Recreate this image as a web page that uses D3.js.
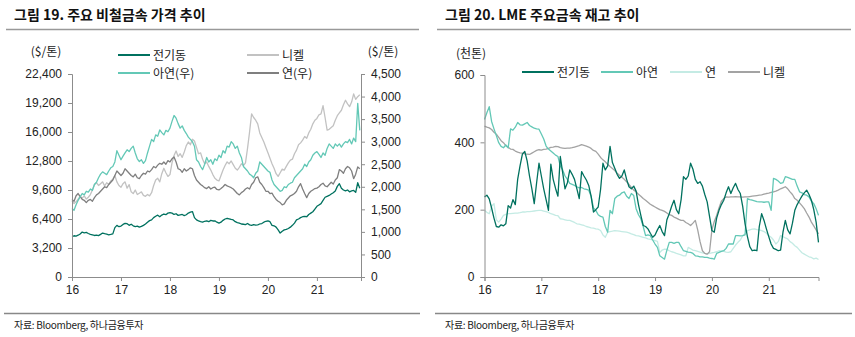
<!DOCTYPE html>
<html>
<head>
<meta charset="utf-8">
<script src="https://cdn.jsdelivr.net/npm/d3@7"></script>
<style>
  body { margin: 0; background: #fff; }
  svg { display: block; font-family: "Noto Sans CJK KR", "Noto Sans", sans-serif; }
  .tick text { fill: #222; font-size: 12px; }
  .domain, .tick line { stroke: #8c8c8c; }
</style>
</head>
<body>
<div id="chart"></div>
<script>
// half-monthly observations, Jan 2016 onward (index i -> 16 + i/24)
var years = ['16', '17', '18', '19', '20', '21']

// 가격: 전기동, 니켈 on the left axis ($/t), 아연, 연 on the right axis
var copperPx = [
  4470, 4550, 4520, 4610, 4750, 4960, 4880, 4920, 4800, 4710, 4650, 4580,
  4620, 4560, 4700, 4850, 4780, 4720, 4650, 4700, 4760, 5450, 5700, 5550,
  5620, 5800, 5920, 5880, 5700, 5820, 5650, 5560, 5620, 5500, 5580, 5700,
  5850, 6050, 6220, 6300, 6550, 6700, 6820, 6650, 6830, 6950, 6880, 7050,
  7100, 7050, 6900, 6980, 6800, 6850, 6900, 6780, 6870, 7050, 7150, 7220,
  6550, 6300, 6200, 6120, 6050, 6150, 6200, 6100, 6250, 6180, 6200, 6050,
  5950, 6050, 6250, 6400, 6480, 6420, 6350, 6300, 6100, 6000, 5950, 5850,
  5820, 5780, 5900, 5750, 5700, 5780, 5720, 5760, 5850, 5900, 6050, 6150,
  6200, 6100, 5700, 5650, 5500, 5200, 4850, 5050, 5200, 5250, 5350, 5500,
  5700, 5950, 6300, 6400, 6550, 6650, 6700, 6650, 6900, 7050, 7200, 7500,
  7800, 7950, 8100, 8450, 8800, 8900, 9000, 9150, 9300, 9500, 10000, 10300,
  9800, 9600, 9500, 9600, 9400, 9500, 9550, 9350, 10400, 9800
]
var nickelPx = [
  8400, 8100, 8300, 8600, 8900, 8700, 8950, 8600, 8800, 9100, 9600, 10200,
  10400, 10100, 10300, 10500, 10050, 10400, 10200, 10600, 10800, 11200, 10500, 10100,
  9900, 10300, 10500, 9800, 10200, 9400, 9200, 9600, 9100, 9250, 9400, 9000,
  8900, 9100, 8950, 9300, 10100, 10700, 10900, 10500, 11400, 12000, 11500, 11100,
  11300, 12600, 13400, 13900, 13300, 13600, 13200, 13800, 14500, 14900, 14600, 15200,
  15000, 14300, 13600, 13700, 13000, 12500, 12700, 12200, 11800, 11300, 10900, 10700,
  10600, 11200, 11800, 12300, 12700, 12500, 12800, 12400, 12000, 11800, 12100, 12500,
  12300, 12600, 14200, 16000, 18000, 17600, 17300, 16900, 15900, 15400, 14900, 14300,
  13700, 13100, 12500, 12000, 11400, 11100, 11500, 11900, 11800, 12200, 12600, 12900,
  13000, 13600, 14000, 14600, 14800, 15100, 15500, 15300, 15900, 16300, 16900, 17300,
  17500, 17900, 18000, 18900, 17600, 16200, 16300, 16500, 16700, 17300, 17800, 18100,
  18400, 19000, 19500, 19100, 18800, 19300, 20200, 19600, 19900, 20100
]
var zincPx = [
  1520, 1480, 1600, 1700, 1780, 1850, 1820, 1900, 1880, 1950, 1920, 2050,
  2100, 2200, 2280, 2330, 2300, 2270, 2350, 2420, 2450, 2550, 2800, 2700,
  2600, 2680, 2750, 2820, 2780, 2850, 2900, 2750, 2620, 2560, 2600, 2520,
  2580, 2750, 2900, 3050, 3000, 3150, 3120, 3260, 3200, 3150, 3250, 3220,
  3300, 3450, 3580, 3520, 3400, 3300, 3350, 3250, 3180, 3100, 3050, 3000,
  2900, 2600, 2550, 2450, 2380, 2500, 2650, 2550, 2600, 2500, 2620, 2580,
  2700, 2650, 2800, 2750, 2900, 2880, 3000, 2950, 2850, 2900, 2750, 2650,
  2450, 2400, 2350, 2280, 2250, 2200, 2300, 2350, 2550, 2500, 2450, 2400,
  2350, 2320, 2150, 2050, 2000, 1950, 1900, 1920, 2000, 1980, 2050, 2080,
  2100, 2200, 2250, 2300, 2350, 2400, 2500, 2450, 2550, 2600, 2700, 2750,
  2780, 2720, 2650, 2750, 2700, 2850, 2950, 2900, 2850, 2950, 2900, 2950,
  2880, 2950, 3000, 2980, 3050, 2950, 3080, 3000, 3850, 3250
]
var leadPx = [
  1720, 1680, 1800, 1850, 1780, 1720, 1700, 1650, 1700, 1720, 1680, 1760,
  1820, 1850, 1900, 1950, 2000, 1980, 2050, 2100, 2150, 2250, 2350, 2300,
  2250, 2300, 2400, 2350, 2300, 2250, 2220, 2280, 2200, 2180, 2250, 2300,
  2280, 2350, 2330, 2380, 2450, 2420, 2480, 2520, 2500, 2550, 2500, 2580,
  2550, 2620, 2660, 2550, 2400, 2380, 2320, 2400, 2350, 2380, 2420, 2400,
  2250, 2150, 2100, 2050, 2020, 1980, 1960, 2000, 1950, 1980, 1990, 1940,
  1930, 1960, 2000, 2050, 2020, 2000, 1980, 1950, 1900, 1850, 1820, 1870,
  1900, 1950, 1980, 1950, 2050, 2100, 2200, 2220, 2100, 2050, 1980, 1900,
  1900, 1850, 1860, 1780, 1720, 1680, 1650, 1600, 1620, 1700, 1750, 1800,
  1820, 1850, 1900, 2000, 2070, 1950, 1850, 1760, 1850, 1900, 1930, 1960,
  1970, 2000, 2050, 2080, 2020, 2000, 2050, 2100, 2060, 2150, 2200, 2380,
  2350, 2300, 2400, 2450, 2420, 2350, 2180, 2280, 2440, 2400
]

// LME 재고 (천톤)
var copperInv = [
  238, 243, 232, 205, 175, 150, 148, 155, 152, 158, 212, 205,
  230, 215, 290, 330, 365, 373, 345, 300, 262, 218, 280, 338,
  300, 262, 230, 198, 335, 290, 263, 240, 358, 310, 262, 280,
  318, 305, 290, 262, 233, 313, 300, 288, 272, 240, 193, 200,
  208, 260, 338, 318, 330, 388, 340, 323, 305, 293, 300, 318,
  290, 268, 262, 270, 255, 215, 183, 153, 150, 143, 130, 118,
  125, 140, 153, 135, 123, 170, 188, 210, 228, 200, 188, 230,
  298, 290, 300, 338, 320, 290, 278, 283, 270, 245, 223, 180,
  138, 133, 175, 198, 215, 228, 250, 268, 248, 265, 278, 260,
  248, 210, 158, 120, 90, 78, 80, 78, 150, 188, 168, 143,
  120, 98, 85, 82, 78, 80, 133, 168, 140, 128, 160, 198,
  215, 228, 240, 250, 258, 245, 228, 200, 163, 103
]
var zincInv = [
  468, 488, 506, 462, 440, 420, 399, 388, 384, 392, 384, 440,
  436, 445, 459, 452, 451, 455, 459, 450, 446, 442, 440, 439,
  425, 410, 389, 380, 374, 368, 362, 358, 330, 318, 300, 290,
  278, 275, 272, 268, 265, 266, 262, 260, 258, 240, 205, 198,
  185, 180, 178, 150, 133, 198, 188, 233, 240, 243, 250, 253,
  240, 233, 248, 242, 203, 185, 173, 150, 123, 125, 123, 110,
  98, 88, 63, 58, 53, 80, 103, 103, 100, 103, 103, 90,
  78, 76, 74, 73, 70, 63, 62, 60, 60, 58, 58, 56,
  55, 53, 70, 73, 76, 78, 85, 98, 98, 98, 123, 123,
  122, 123, 125, 233, 230, 228, 226, 224, 223, 223, 222, 223,
  223, 198, 293, 290, 285, 278, 280, 298, 296, 293, 290, 290,
  270, 253, 250, 245, 243, 238, 225, 218, 203, 183
]
var leadInv = [
  198, 192, 188, 210, 218, 170, 163, 172, 183, 186, 188, 188,
  189, 190, 190, 191, 193, 193, 194, 194, 195, 196, 197, 198,
  198, 196, 194, 192, 188, 186, 183, 182, 173, 172, 170, 168,
  168, 165, 162, 158, 157, 155, 153, 150, 148, 146, 145, 143,
  142, 138, 125, 118, 133, 135, 136, 138, 137, 136, 135, 134,
  133, 131, 128, 126, 123, 122, 120, 118, 116, 113, 112, 110,
  108, 106, 73, 80, 83, 82, 78, 75, 73, 70, 68, 66,
  63, 63, 88, 84, 80, 78, 76, 74, 72, 70, 68, 70,
  72, 73, 75, 78, 77, 76, 74, 73, 75, 85, 95, 103,
  110, 123, 128, 138, 140, 142, 143, 141, 140, 138, 135, 130,
  123, 118, 110, 98, 105, 123, 120, 116, 113, 105, 100, 93,
  88, 80, 72, 68, 64, 60, 58, 54, 56, 52
]
var nickelInv = [
  448, 445, 443, 438, 430, 424, 415, 405, 399, 390, 385, 380,
  379, 374, 371, 369, 368, 366, 365, 364, 368, 372, 376, 378,
  377, 379, 380, 382, 385, 386, 388, 387, 384, 383, 382, 383,
  383, 384, 386, 388, 390, 393, 391, 389, 386, 382, 376, 373,
  365, 355, 348, 342, 335, 328, 322, 316, 308, 302, 296, 290,
  283, 275, 266, 258, 253, 246, 240, 233, 228, 222, 216, 212,
  208, 204, 200, 198, 195, 190, 185, 183, 178, 175, 171, 168,
  168, 162, 158, 153, 160, 168, 140, 105, 78, 70, 68, 75,
  140, 165, 183, 205, 225, 233, 238, 237, 238, 238, 239, 238,
  238, 237, 238, 238, 239, 240, 241, 242, 243, 244, 246, 248,
  249, 251, 253, 255, 258, 262, 265, 268, 262, 253, 245, 233,
  228, 220, 212, 203, 190, 178, 163, 152, 140, 128
]

var leftTicks = [0, 3200, 6400, 9600, 12800, 16000, 19200, 22400]
var rightTicks = [0, 500, 1000, 1500, 2000, 2500, 3000, 3500, 4000, 4500]
var invTicks = [0, 200, 400, 600]

var C_COPPER = '#00715f', C_ZINC = '#63c8b6'

var svg = d3.select('#chart').append('svg').attr('width', 855).attr('height', 337)

var t = (d, i) => 16 + i / 24
var fmt = d3.format(',')

function header(x0, x1, title){
  svg.append('text').attr('x', x0 + 8).attr('y', 20)
    .style('font-size', '14px').style('font-weight', 'bold').style('fill', '#111')
    .text(title)
  svg.append('line').attr('x1', x0).attr('x2', x1).attr('y1', 29.5).attr('y2', 29.5)
    .style('stroke', '#999').style('stroke-width', 1.3)
  svg.append('line').attr('x1', x0 - 2).attr('x2', x1 + 1).attr('y1', 313.5).attr('y2', 313.5)
    .style('stroke', '#888').style('stroke-width', 1.3)
  svg.append('text').attr('x', x0 + 8).attr('y', 329)
    .style('font-size', '10px').style('fill', '#222').style('letter-spacing', '-0.3px')
    .text('자료: Bloomberg, 하나금융투자')
}

function drawLine(g, vals, x, y, color, w){
  g.append('path').datum(vals)
    .attr('d', d3.line().x((d, i) => x(t(d, i))).y(d => y(d)))
    .style('fill', 'none').style('stroke', color).style('stroke-width', w || 1.3)
    .style('stroke-linejoin', 'round')
}

function legendItem(x, y, color, label){
  svg.append('line').attr('x1', x).attr('x2', x + 32).attr('y1', y).attr('y2', y)
    .style('stroke', color).style('stroke-width', 2)
  svg.append('text').attr('x', x + 35).attr('y', y + 4.5)
    .style('font-size', '12px').style('fill', '#222').text(label)
}

// ---- 그림 19: 가격 ----
header(6, 419, '그림 19. 주요 비철금속 가격 추이')

var x1 = d3.scaleLinear().domain([16, 21.9]).range([72, 361])
var yL = d3.scaleLinear().domain([0, 22400]).range([277, 74])
var yR = d3.scaleLinear().domain([0, 4500]).range([277, 74])

var g1 = svg.append('g')
drawLine(g1, nickelPx, x1, yL, '#c2c2c2')
drawLine(g1, leadPx, x1, yR, '#7f7f7f')
drawLine(g1, zincPx, x1, yR, C_ZINC)
drawLine(g1, copperPx, x1, yL, C_COPPER)

svg.append('g').attr('transform', 'translate(72,0)')
  .call(d3.axisLeft(yL).tickValues(leftTicks).tickFormat(fmt).tickSize(4).tickPadding(6))
svg.append('g').attr('transform', 'translate(361,0)')
  .call(d3.axisRight(yR).tickValues(rightTicks).tickFormat(fmt).tickSize(4).tickPadding(6))
svg.append('g').attr('transform', 'translate(0,277)')
  .call(d3.axisBottom(x1).tickValues(years.map(Number)).tickFormat(d => d).tickSize(4).tickPadding(4))

svg.append('text').attr('x', 46).attr('y', 56).attr('text-anchor', 'middle')
  .style('font-size', '12px').style('fill', '#222').text('($/톤)')
svg.append('text').attr('x', 383).attr('y', 56).attr('text-anchor', 'middle')
  .style('font-size', '12px').style('fill', '#222').text('($/톤)')

legendItem(118, 55, C_COPPER, '전기동')
legendItem(247, 55, '#c2c2c2', '니켈')
legendItem(118, 73, C_ZINC, '아연(우)')
legendItem(247, 73, '#7f7f7f', '연(우)')

// ---- 그림 20: 재고 ----
header(437, 851, '그림 20. LME 주요금속 재고 추이')

var x2 = d3.scaleLinear().domain([16, 21.875]).range([484.5, 818.5])
var yI = d3.scaleLinear().domain([0, 600]).range([277, 75])

var g2 = svg.append('g')
drawLine(g2, leadInv, x2, yI, '#c4ebe4')
drawLine(g2, nickelInv, x2, yI, '#a3a3a3')
drawLine(g2, zincInv, x2, yI, C_ZINC)
drawLine(g2, copperInv, x2, yI, C_COPPER)

svg.append('g').attr('transform', 'translate(484.5,0)')
  .call(d3.axisLeft(yI).tickValues(invTicks).tickSize(4).tickPadding(6))
svg.append('g').attr('transform', 'translate(0,277)')
  .call(d3.axisBottom(x2).tickValues(years.map(Number)).tickFormat(d => d).tickSize(4).tickPadding(4))

svg.append('text').attr('x', 471).attr('y', 58).attr('text-anchor', 'middle')
  .style('font-size', '12px').style('fill', '#222').text('(천톤)')

legendItem(522, 72, C_COPPER, '전기동')
legendItem(601, 72, C_ZINC, '아연')
legendItem(670, 72, '#c4ebe4', '연')
legendItem(728, 72, '#a3a3a3', '니켈')
</script>
</body>
</html>
